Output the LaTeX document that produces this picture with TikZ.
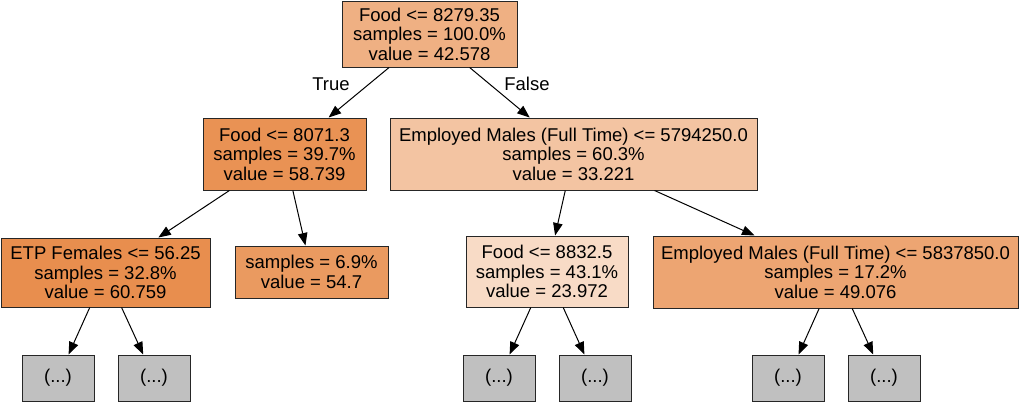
\documentclass[tikz,border=0pt]{standalone}
\usepackage{xcolor}
\usepackage{fontspec}
\setmainfont{Liberation Sans}
\usepackage{tikz}
\usetikzlibrary{arrows.meta}
\definecolor{rootfill}{HTML}{EFB083}
\definecolor{leftfill}{HTML}{E99254}
\definecolor{rightfill}{HTML}{F3C4A2}
\definecolor{etpfill}{HTML}{E88E4E}
\definecolor{leaffill}{HTML}{EA9A60}
\definecolor{foodfill}{HTML}{F8DBC6}
\definecolor{empfill}{HTML}{EDA572}
\definecolor{restfill}{HTML}{C0C0C0}

\begin{document}
\begin{tikzpicture}[x=1pt,y=-1pt,
  box/.style={draw=black!85, line width=1pt, align=center, inner sep=0pt,
    font=\fontsize{18.5}{19.5}\selectfont},
  rest/.style={box, fill=restfill, minimum width=72pt, minimum height=46pt},
  link/.style={line width=1pt, -{Triangle[length=12.5pt,width=9.5pt]}}]
\useasboundingbox (0,0) rectangle (1025,408);
\node[box, fill=rootfill, minimum width=175pt, minimum height=66pt] (root) at (429.5,34) {Food <= 8279.35\\samples = 100.0\%\\value = 42.578};
\node[box, fill=leftfill, minimum width=163pt, minimum height=72pt] (foodA) at (284.5,154) {Food <= 8071.3\\samples = 39.7\%\\value = 58.739};
\node[box, fill=rightfill, minimum width=367pt, minimum height=72pt] (empA) at (573.5,154) {Employed Males (Full Time) <= 5794250.0\\samples = 60.3\%\\value = 33.221};
\node[box, fill=etpfill, minimum width=209pt, minimum height=69pt] (etp) at (105.5,272.5) {ETP Females <= 56.25\\samples = 32.8\%\\value = 60.759};
\node[box, fill=leaffill, minimum width=153pt, minimum height=52pt] (leaf) at (311.5,272) {samples = 6.9\%\\value = 54.7};
\node[box, fill=foodfill, minimum width=162pt, minimum height=71pt] (foodB) at (547,271.5) {Food <= 8832.5\\samples = 43.1\%\\value = 23.972};
\node[box, fill=empfill, minimum width=365pt, minimum height=72pt] (empB) at (835.5,272) {Employed Males (Full Time) <= 5837850.0\\samples = 17.2\%\\value = 49.076};
\node[rest] (r1) at (58,378) {(...)};
\node[rest] (r2) at (154,378) {(...)};
\node[rest] (r3) at (499,378) {(...)};
\node[rest] (r4) at (595,378) {(...)};
\node[rest] (r5) at (788,378) {(...)};
\node[rest] (r6) at (884,378) {(...)};
\draw[link] (root) -- (foodA);
\draw[link] (root) -- (empA);
\node[font=\fontsize{18.5}{19.5}\selectfont] (truelbl) at (331,84) {True};
\node[font=\fontsize{18.5}{19.5}\selectfont] (falselbl) at (527,84) {False};
\draw[link] (foodA) -- (etp);
\draw[link] (foodA) -- (leaf);
\draw[link] (empA) -- (foodB);
\draw[link] (empA) -- (empB);
\draw[link] (etp) -- (r1);
\draw[link] (etp) -- (r2);
\draw[link] (foodB) -- (r3);
\draw[link] (foodB) -- (r4);
\draw[link] (empB) -- (r5);
\draw[link] (empB) -- (r6);
\end{tikzpicture}
\end{document}
